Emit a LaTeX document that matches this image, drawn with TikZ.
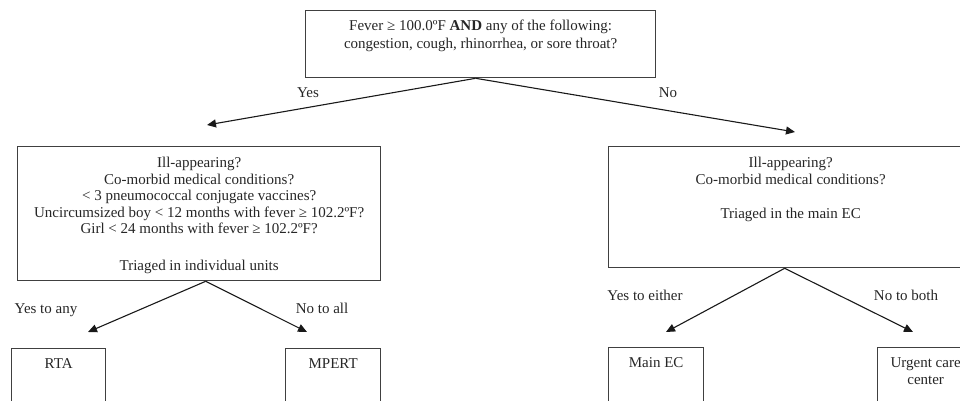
\documentclass[tikz,border=0pt]{standalone}
\usepackage{fontspec}
\setmainfont{Liberation Serif}
\usetikzlibrary{arrows.meta}
\newcommand\boxtxt[5]{\parbox[c][#2pt][t]{#1pt}{\fontsize{15}{#3pt}\selectfont\centering\vspace*{#4pt}#5\par}}
\begin{document}
\begin{tikzpicture}[x=1pt,y=-1pt,
  box/.style={draw=black!75, line width=1.3pt, inner sep=0pt, anchor=north west, text=black!85},
  arr/.style={draw=black!90, line width=1.1pt, -{Triangle[length=9pt,width=8pt]}},
  lbl/.style={text=black!85, inner sep=0pt, anchor=base, font=\fontsize{15}{18}\selectfont}]
\useasboundingbox (0,0) rectangle (960,401);
\clip (0,0) rectangle (960,401);
% boxes
\node[box] (top) at (305,10) {\boxtxt{350}{67}{18}{9}{Fever ≥ 100.0ºF \textbf{AND} any of the following:\\ congestion, cough, rhinorrhea, or sore throat?}};
\node[box] (left) at (17,146) {\boxtxt{363}{134}{16.5}{10.8}{Ill-appearing?\\ Co-morbid medical conditions?\\ < 3 pneumococcal conjugate vaccines?\\ Uncircumsized boy < 12 months with fever ≥ 102.2ºF?\\ Girl < 24 months with fever ≥ 102.2ºF?\\[20.5pt] Triaged in individual units}};
\node[box] (right) at (608,146) {\boxtxt{364}{121}{16.5}{10.8}{Ill-appearing?\\ Co-morbid medical conditions?\\[17.5pt] Triaged in the main EC}};
\node[box] (rta) at (11,348) {\boxtxt{94}{80}{17}{10}{RTA}};
\node[box] (mpert) at (285,348) {\boxtxt{95}{80}{17}{10}{MPERT}};
\node[box] (mainec) at (608,347) {\boxtxt{95}{80}{17}{10}{Main EC}};
\node[box] (urgent) at (877,347) {\boxtxt{96}{80}{17}{10}{Urgent care\\ center}};
% connector points
\coordinate (topApex) at ([xshift=-5pt]top.south);
\coordinate (leftApex) at ([xshift=6.5pt]left.south);
\coordinate (rightApex) at ([xshift=-6pt]right.south);
\coordinate (tipYes) at (207,125);
\coordinate (tipNo) at (795,132);
\coordinate (tipRTA) at (88,332);
\coordinate (tipMPERT) at (307,332);
\coordinate (tipMain) at (666,332);
\coordinate (tipUrgent) at (913,332);
% connectors
\draw[arr] (topApex) -- (tipYes);
\draw[arr] (topApex) -- (tipNo);
\draw[arr] (leftApex) -- (tipRTA);
\draw[arr] (leftApex) -- (tipMPERT);
\draw[arr] (rightApex) -- (tipMain);
\draw[arr] (rightApex) -- (tipUrgent);
% labels
\node[lbl] (lYes) at (308,98) {Yes};
\node[lbl] (lNo) at (668,98) {No};
\node[lbl] (lYesAny) at (46,313) {Yes to any};
\node[lbl] (lNoAll) at (322,313) {No to all};
\node[lbl] (lYesEither) at (645,300) {Yes to either};
\node[lbl] (lNoBoth) at (906,300) {No to both};
\end{tikzpicture}
\end{document}
